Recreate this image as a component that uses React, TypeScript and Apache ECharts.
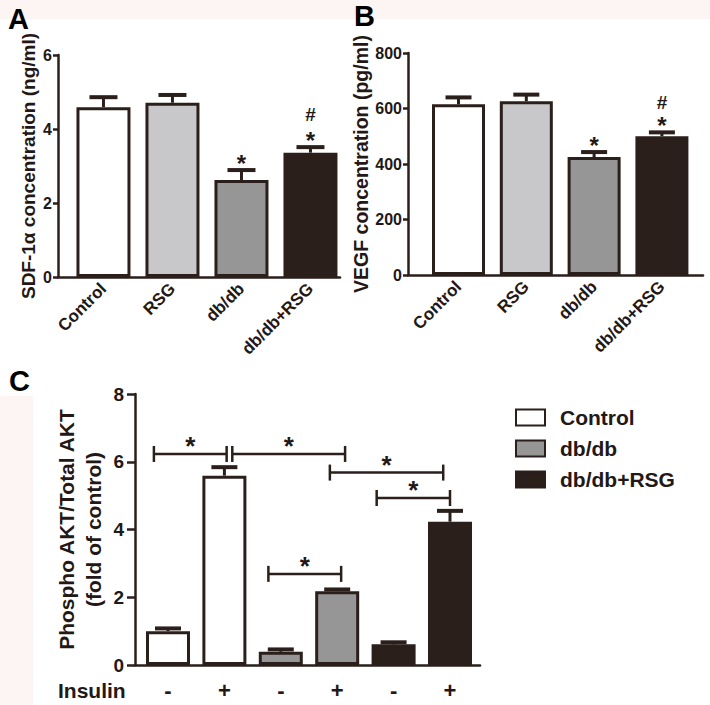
import React, { useEffect, useRef } from "react";
import * as echarts from "echarts";

// ---------- data ----------
const groupsAB = ["Control", "RSG", "db/db", "db/db+RSG"];
const sdfMean = [4.59, 4.71, 2.62, 3.36];
const sdfSem = [0.27, 0.21, 0.27, 0.15];
const sdfStar = ["", "", "*", "*"];
const sdfHash = ["", "", "", "#"];

const vegfMean = [615, 626, 425, 500];
const vegfSem = [25, 24, 18, 14];
const vegfStar = ["", "", "*", "*"];
const vegfHash = ["", "", "", "#"];

const aktGroups = ["Control", "db/db", "db/db+RSG"];
const insulinLabels = ["-", "+", "-", "+", "-", "+"];
const aktGroupOf = [0, 0, 1, 1, 2, 2];
const aktMean = [1.0, 5.59, 0.39, 2.18, 0.61, 4.23];
const aktSem = [0.08, 0.25, 0.07, 0.05, 0.06, 0.32];
const aktStar = ["", "", "", "", "", ""];
const aktHash = ["", "", "", "", "", ""];
// [from, to, height] in data units of panel C
const aktBrackets = [
  [-0.25, 1.04, 6.23],
  [1.14, 3.14, 6.23],
  [2.87, 4.88, 5.68],
  [3.7, 5.0, 4.93],
  [1.78, 3.07, 2.69],
];

// ---------- styles ----------
const INK = "#2b1f1c";
const TXT = "#231815";
const FONT = "'Liberation Sans', Arial, Helvetica, sans-serif";
const fillsAB = ["#ffffff", "#c8c8ca", "#969696", "#2b1f1c"];
const fillsC = ["#ffffff", "#969696", "#2b1f1c"];

function yAxisBase(gridIndex: number, max: number, interval: number, fontSize: number, tickLen: number, margin: number) {
  return {
    type: "value",
    gridIndex,
    min: 0,
    max,
    interval,
    axisLine: { show: true, onZero: false, lineStyle: { color: INK, width: 2.5 } },
    axisTick: { show: true, length: tickLen, lineStyle: { color: INK, width: 2.5 } },
    splitLine: { show: false },
    axisLabel: { color: TXT, fontSize, fontWeight: "bold", fontFamily: FONT, margin },
  };
}

function errSeries(axisIndex: number, means: number[], sems: number[], stars: string[], hashes: string[], cap: number, starGap: number, hashGap: number) {
  return {
    type: "custom",
    xAxisIndex: axisIndex,
    yAxisIndex: axisIndex,
    z: 5,
    encode: { x: 0, y: 1 },
    data: means.map((m, i) => [i, m + sems[i]]),
    renderItem: (params: any, api: any) => {
      const i = params.dataIndex;
      const m = means[i];
      const e = sems[i];
      const base = api.coord([i, m]);
      const top = api.coord([i, m + e]);
      const children: any[] = [
        { type: "line", shape: { x1: base[0], y1: base[1], x2: top[0], y2: top[1] }, style: { stroke: INK, lineWidth: 3 } },
        { type: "line", shape: { x1: top[0] - cap, y1: top[1], x2: top[0] + cap, y2: top[1] }, style: { stroke: INK, lineWidth: 4 } },
      ];
      const s = stars[i];
      const h = hashes[i];
      if (s) {
        children.push({
          type: "text",
          x: top[0],
          y: top[1] - starGap,
          style: { text: s, fill: TXT, font: `bold 24px ${FONT}`, textAlign: "center", textVerticalAlign: "middle" },
        });
      }
      if (h) {
        children.push({
          type: "text",
          x: top[0],
          y: top[1] - hashGap,
          style: { text: h, fill: TXT, font: `bold 19px ${FONT}`, textAlign: "center", textVerticalAlign: "middle" },
        });
      }
      return { type: "group", children };
    },
  };
}

export default function App() {
  const ref = useRef<HTMLDivElement>(null);

  useEffect(() => {
    if (!ref.current) return;
    const chart = echarts.init(ref.current, undefined, { renderer: "svg" });

    const xLabelAB = {
      customValues: [0, 1, 2, 3],
      formatter: (v: number) => groupsAB[Math.round(v)] ?? "",
      rotate: 45,
      color: TXT,
      fontSize: 17,
      fontWeight: "bold",
      fontFamily: FONT,
      margin: 9,
    };
    const xLineStyle = { show: true, onZero: false, lineStyle: { color: INK, width: 2.5 } };

    const cSeries = aktGroups.map((g, gi) => ({
      type: "bar",
      name: g,
      xAxisIndex: 2,
      yAxisIndex: 2,
      barWidth: 44,
      barGap: "-100%",
      itemStyle: { color: fillsC[gi], borderColor: INK, borderWidth: 3 },
      data: aktMean.map((v, i) => [i, v]).filter((_, i) => aktGroupOf[i] === gi),
    }));

    const option: any = {
      animation: false,
      backgroundColor: "#ffffff",
      textStyle: { fontFamily: FONT },
      grid: [
        { left: 58, top: 55, width: 282, height: 222 },
        { left: 408, top: 53, width: 295, height: 222 },
        { left: 135, top: 394, width: 345, height: 271 },
      ],
      xAxis: [
        { type: "value", gridIndex: 0, min: -0.659, max: 3.428, axisLine: xLineStyle, axisTick: { show: false }, splitLine: { show: false }, axisLabel: xLabelAB },
        { type: "value", gridIndex: 1, min: -0.745, max: 3.606, axisLine: xLineStyle, axisTick: { show: false }, splitLine: { show: false }, axisLabel: xLabelAB },
        {
          type: "value",
          gridIndex: 2,
          min: -0.585,
          max: 5.532,
          axisLine: xLineStyle,
          axisTick: { show: false },
          splitLine: { show: false },
          axisLabel: {
            customValues: [0, 1, 2, 3, 4, 5],
            formatter: (v: number) => insulinLabels[Math.round(v)] ?? "",
            color: TXT,
            fontSize: 22,
            fontWeight: "bold",
            fontFamily: FONT,
            margin: 14,
          },
        },
      ],
      yAxis: [
        {
          ...yAxisBase(0, 6, 2, 16, 5, 6),
          name: "SDF-1α concentration (ng/ml)",
          nameLocation: "middle",
          nameGap: 20,
          nameTextStyle: { color: TXT, fontSize: 19, fontWeight: "bold", fontFamily: FONT },
        },
        {
          ...yAxisBase(1, 800, 200, 16, 5, 6),
          name: "VEGF concentration (pg/ml)",
          nameLocation: "middle",
          nameGap: 34,
          nameTextStyle: { color: TXT, fontSize: 19.5, fontWeight: "bold", fontFamily: FONT },
        },
        {
          ...yAxisBase(2, 8, 2, 19, 8, 11),
          name: "Phospho AKT/Total AKT\n(fold of control)",
          nameLocation: "middle",
          nameGap: 28,
          nameTextStyle: { color: TXT, fontSize: 21, fontWeight: "bold", fontFamily: FONT, lineHeight: 27, align: "center" },
        },
      ],
      legend: {
        show: true,
        orient: "vertical",
        left: 510,
        top: 402,
        itemWidth: 29,
        itemHeight: 16,
        itemGap: 10,
        icon: "rect",
        selectedMode: false,
        data: aktGroups,
        textStyle: { color: TXT, fontSize: 21, fontWeight: "bold", fontFamily: FONT, lineHeight: 21, padding: [0, 0, 0, 10] },
      },
      graphic: [
        { type: "rect", z: -10, shape: { x: 0, y: 0, width: 710, height: 19 }, style: { fill: "#fcf5f4" } },
        { type: "rect", z: -10, shape: { x: 0, y: 396, width: 33, height: 309 }, style: { fill: "#fcf5f4" } },
        { type: "text", x: 8, y: 19, style: { text: "A", fill: "#000", font: `bold 29px ${FONT}`, textVerticalAlign: "middle" } },
        { type: "text", x: 354, y: 16, style: { text: "B", fill: "#000", font: `bold 29px ${FONT}`, textVerticalAlign: "middle" } },
        { type: "text", x: 9, y: 381, style: { text: "C", fill: "#000", font: `bold 29px ${FONT}`, textVerticalAlign: "middle" } },
        { type: "text", x: 58, y: 690, style: { text: "Insulin", fill: TXT, font: `bold 21px ${FONT}`, textVerticalAlign: "middle" } },
      ],
      series: [
        {
          type: "bar",
          xAxisIndex: 0,
          yAxisIndex: 0,
          barWidth: 54,
          data: sdfMean.map((v, i) => ({ value: [i, v], itemStyle: { color: fillsAB[i], borderColor: INK, borderWidth: 3 } })),
        },
        errSeries(0, sdfMean, sdfSem, sdfStar, sdfHash, 14, 7, 33),
        {
          type: "bar",
          xAxisIndex: 1,
          yAxisIndex: 1,
          barWidth: 53,
          data: vegfMean.map((v, i) => ({ value: [i, v], itemStyle: { color: fillsAB[i], borderColor: INK, borderWidth: 3 } })),
        },
        errSeries(1, vegfMean, vegfSem, vegfStar, vegfHash, 13, 7, 30),
        ...cSeries,
        errSeries(2, aktMean, aktSem, aktStar, aktHash, 13, 7, 30),
        {
          type: "custom",
          xAxisIndex: 2,
          yAxisIndex: 2,
          z: 5,
          encode: { x: [0, 1], y: 2 },
          data: aktBrackets,
          renderItem: (params: any, api: any) => {
            const br = aktBrackets[params.dataIndex];
            const a = api.coord([br[0], br[2]]);
            const b = api.coord([br[1], br[2]]);
            const st = { stroke: INK, lineWidth: 2.5 };
            return {
              type: "group",
              children: [
                { type: "line", shape: { x1: a[0], y1: a[1], x2: b[0], y2: b[1] }, style: st },
                { type: "line", shape: { x1: a[0], y1: a[1] - 8, x2: a[0], y2: a[1] + 8 }, style: st },
                { type: "line", shape: { x1: b[0], y1: b[1] - 8, x2: b[0], y2: b[1] + 8 }, style: st },
                {
                  type: "text",
                  x: (a[0] + b[0]) / 2,
                  y: a[1] - 8,
                  style: { text: "*", fill: TXT, font: `bold 26px ${FONT}`, textAlign: "center", textVerticalAlign: "middle" },
                },
              ],
            };
          },
        },
      ],
    };

    chart.setOption(option);
    return () => chart.dispose();
  }, []);

  return <div ref={ref} style={{ position: "absolute", left: 0, top: 0, width: 710, height: 705 }} />;
}
